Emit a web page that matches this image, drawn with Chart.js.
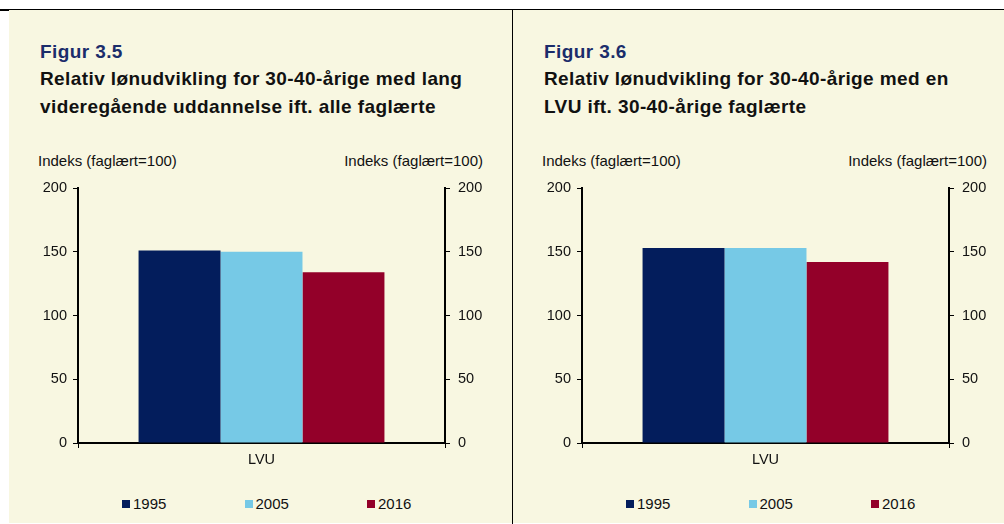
<!DOCTYPE html>
<html>
<head>
<meta charset="utf-8">
<script src="https://cdn.jsdelivr.net/npm/chart.js@4.4.1/dist/chart.umd.min.js"></script>
<style>
  html, body { margin: 0; padding: 0; background: #fff; }
  body { width: 1004px; height: 524px; position: relative; overflow: hidden;
         font-family: "Liberation Sans", Arial, sans-serif; color: #111; }
  .topline { position: absolute; left: 0; top: 9px; width: 1004px; height: 1.5px; background: #000; }
  .divider { position: absolute; left: 511.5px; top: 9px; width: 1.5px; height: 515px; background: #000; }
  .panel { position: absolute; top: 10px; height: 513px; background: #f8f7e1; }
  .fig { position: absolute; left: 31px; top: 32px; font-weight: bold; font-size: 19px;
         line-height: 20px; letter-spacing: 0.4px; color: #1b2d6b; white-space: nowrap; }
  .sub { position: absolute; left: 31px; top: 55px; font-weight: bold; font-size: 19px;
         line-height: 28px; letter-spacing: 0.4px; color: #111; white-space: nowrap; }
  .ylab { position: absolute; top: 142px; font-size: 15px; white-space: nowrap; }
  .ylab.l { left: 29px; }
  .cv { position: absolute; left: 0; top: 140px; }
  .legend { position: absolute; left: 113px; top: 485px; display: flex; font-size: 15px; }
  .legend .item { width: 122.5px; display: flex; align-items: center; white-space: nowrap; }
  .legend .sw { width: 8px; height: 8px; margin-right: 3px; }
</style>
</head>
<body>
<div class="topline"></div>
<script>
// data
const categories = ['LVU'];
const seriesNames = ['1995', '2005', '2016'];
const fig35Values = [151, 150, 134];
const fig36Values = [153, 153, 142];
const yTicks = [0, 50, 100, 150, 200];

const seriesColors = ['#031d5c', '#76c9e6', '#930029'];
const fontFam = '"Liberation Sans", Arial, sans-serif';

function makePanel(left, width, figText, subLines, values) {
  var panel = document.createElement('div');
  panel.className = 'panel';
  panel.style.left = left + 'px';
  panel.style.width = width + 'px';
  document.body.appendChild(panel);

  panel.innerHTML =
    '<div class="fig">' + figText + '</div>' +
    '<div class="sub">' + subLines.join('<br>') + '</div>' +
    '<div class="ylab l">Indeks (faglært=100)</div>' +
    '<div class="ylab" style="right:' + (width - 474) + 'px;text-align:right">Indeks (faglært=100)</div>';

  var cv = document.createElement('canvas');
  cv.className = 'cv';
  cv.width = 503; cv.height = 330;
  cv.style.width = '503px'; cv.style.height = '330px';
  panel.appendChild(cv);

  var leg = document.createElement('div');
  leg.className = 'legend';
  seriesNames.forEach(function (n, i) {
    leg.innerHTML += '<div class="item"><span class="sw" style="background:' + seriesColors[i] + '"></span>' + n + '</div>';
  });
  panel.appendChild(leg);

  var yMin = yTicks[0], yMax = yTicks[yTicks.length - 1];
  var tickFont = { family: fontFam, size: 14.5 };

  new Chart(cv.getContext('2d'), {
    type: 'bar',
    data: {
      labels: categories,
      datasets: seriesNames.map(function (n, i) {
        return {
          label: n,
          data: [values[i]],
          backgroundColor: seriesColors[i],
          borderWidth: 0,
          categoryPercentage: 0.67,
          barPercentage: 1.0,
          yAxisID: 'y'
        };
      })
    },
    options: {
      responsive: false,
      animation: false,
      layout: { padding: { top: 38, left: 0, right: 0, bottom: 0 } },
      plugins: { legend: { display: false }, title: { display: false }, tooltip: { enabled: false } },
      scales: {
        x: {
          grid: { offset: true, drawOnChartArea: false, drawTicks: true, tickLength: 5, color: '#000', lineWidth: 1 },
          border: { display: true, color: '#000', width: 2 },
          ticks: { color: '#111', font: tickFont, padding: 3 },
          afterFit: function (s) { s.height = 37; }
        },
        y: {
          position: 'left',
          min: yMin, max: yMax,
          grid: { drawOnChartArea: false, drawTicks: true, tickLength: 5, color: '#000', lineWidth: 1 },
          border: { display: true, color: '#000', width: 2 },
          ticks: { stepSize: 50, color: '#111', font: tickFont, padding: 6 },
          afterFit: function (s) { s.width = 69; }
        },
        y2: {
          position: 'right',
          min: yMin, max: yMax,
          grid: { drawOnChartArea: false, drawTicks: true, tickLength: 5, color: '#000', lineWidth: 1 },
          border: { display: true, color: '#000', width: 2 },
          ticks: { stepSize: 50, color: '#111', font: tickFont, padding: 8 },
          afterFit: function (s) { s.width = 67; }
        }
      }
    }
  });
}

makePanel(9, 503, 'Figur 3.5',
  ['Relativ lønudvikling for 30-40-årige med lang', 'videregående uddannelse ift. alle faglærte'],
  fig35Values);
makePanel(513, 491, 'Figur 3.6',
  ['Relativ lønudvikling for 30-40-årige med en', 'LVU ift. 30-40-årige faglærte'],
  fig36Values);

var d = document.createElement('div');
d.className = 'divider';
document.body.appendChild(d);
</script>
</body>
</html>
